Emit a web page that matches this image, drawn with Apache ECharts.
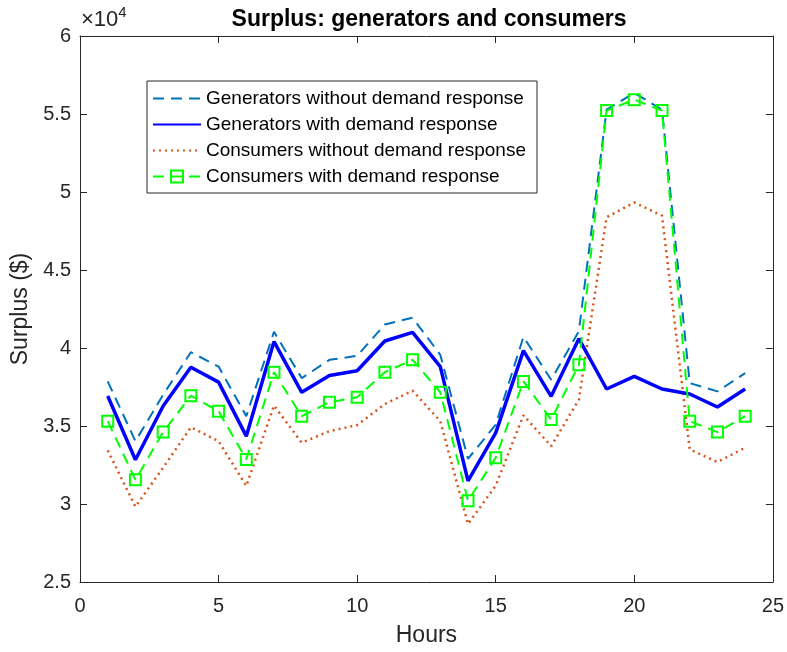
<!DOCTYPE html>
<html>
<head>
<meta charset="utf-8">
<script src="https://cdn.jsdelivr.net/npm/echarts@6/dist/echarts.min.js"></script>
<style>
  html, body { margin: 0; padding: 0; background: #fff; overflow: hidden; }
  #chart { width: 787px; height: 652px; }
</style>
</head>
<body>
<div id="chart"></div>
<script>
// Hourly surplus ($) for generators and consumers, with and without demand response
const hours = [1, 2, 3, 4, 5, 6, 7, 8, 9, 10, 11, 12, 13, 14, 15, 16, 17, 18, 19, 20, 21, 22, 23, 24];

const genWithoutDR = [37860, 34030, 37000, 39730, 38810, 35630, 41040, 38070, 39240, 39500, 41510, 41940,
                      39560, 32900, 35090, 40720, 37960, 41070, 55280, 56350, 55280, 37750, 37220, 38390];
const genWithDR    = [36920, 32840, 36280, 38770, 37810, 34350, 40410, 37160, 38240, 38540, 40450, 41000,
                      38810, 31480, 34560, 39830, 36900, 40600, 37370, 38180, 37370, 37050, 36220, 37370];
const consWithoutDR = [33440, 29830, 32330, 34920, 34030, 31160, 36310, 33930, 34670, 35060, 36410, 37260,
                       35310, 28720, 31180, 35690, 33710, 36690, 48380, 49330, 48480, 33500, 32690, 33610];
const consWithDR    = [35310, 31550, 34610, 36940, 35950, 32860, 38450, 35630, 36520, 36840, 38450, 39240,
                       37160, 30210, 32970, 37860, 35410, 38920, 55220, 55920, 55220, 35310, 34610, 35630];

const seriesNames = [
  'Generators without demand response',
  'Generators with demand response',
  'Consumers without demand response',
  'Consumers with demand response'
];

const xTicks = { min: 0, max: 25, step: 5 };
const yTicks = { min: 25000, max: 60000, step: 5000 };

const pair = vals => hours.map((h, i) => [h, vals[i]]);

const font = '"Liberation Sans", Arial, Helvetica, sans-serif';
const axisColor = '#262626';

const chart = echarts.init(document.getElementById('chart'), null, { renderer: 'canvas' });

const baseX = {
  type: 'value', min: xTicks.min, max: xTicks.max, interval: xTicks.step,
  axisLine: { show: true, onZero: false, lineStyle: { color: axisColor, width: 1 } },
  axisTick: { show: true, inside: true, length: 7, lineStyle: { color: axisColor } },
  splitLine: { show: false }
};
const baseY = {
  type: 'value', min: yTicks.min, max: yTicks.max, interval: yTicks.step,
  axisLine: { show: true, onZero: false, lineStyle: { color: axisColor, width: 1 } },
  axisTick: { show: true, inside: true, length: 7, lineStyle: { color: axisColor } },
  splitLine: { show: false }
};

// lines without markers get a plain line icon in the legend
const hiddenMarker = { color: 'rgba(0,0,0,0)', borderColor: 'rgba(0,0,0,0)', borderWidth: 0 };

chart.setOption({
  animation: false,
  backgroundColor: '#ffffff',
  title: [
    {
      text: 'Surplus: generators and consumers',
      left: 424, top: 3, textAlign: 'center',
      textStyle: { fontFamily: font, fontSize: 23, fontWeight: 'bold', color: '#000' }
    },
    {
      // exponent of the y-axis scale
      text: '{base|×10}{sup|4}',
      left: 81, top: 5, padding: 0,
      textStyle: {
        fontFamily: font, fontSize: 22, fontWeight: 'normal', color: axisColor,
        rich: {
          base: { fontFamily: font, fontSize: 22, fontWeight: 'normal', color: axisColor, verticalAlign: 'bottom', lineHeight: 26 },
          sup: { fontFamily: font, fontSize: 15, fontWeight: 'normal', color: axisColor, verticalAlign: 'top', lineHeight: 26 }
        }
      }
    }
  ],
  grid: { left: 80, top: 36, width: 694, height: 549, containLabel: false },
  xAxis: [
    Object.assign({}, baseX, {
      position: 'bottom',
      name: 'Hours', nameLocation: 'middle', nameGap: 42,
      nameTextStyle: { fontFamily: font, fontSize: 23, color: axisColor },
      axisLabel: { show: true, fontFamily: font, fontSize: 20, color: axisColor, margin: 14 }
    }),
    Object.assign({}, baseX, { position: 'top', axisLabel: { show: false } })
  ],
  yAxis: [
    Object.assign({}, baseY, {
      position: 'left',
      name: 'Surplus ($)', nameLocation: 'middle', nameGap: 48,
      nameTextStyle: { fontFamily: font, fontSize: 23, color: axisColor },
      axisLabel: {
        show: true, fontFamily: font, fontSize: 20, color: axisColor, margin: 9,
        formatter: v => String(v / 10000)
      }
    }),
    Object.assign({}, baseY, { position: 'right', axisLabel: { show: false } })
  ],
  legend: {
    orient: 'vertical',
    left: 147, top: 81,
    padding: [8, 11, 7, 5],
    itemGap: 7,
    itemWidth: 48,
    itemHeight: 15,
    backgroundColor: '#ffffff',
    borderColor: axisColor,
    borderWidth: 1,
    textStyle: { fontFamily: font, fontSize: 19, color: '#000', padding: [0, 0, 0, 0] },
    data: [
      { name: seriesNames[0], itemStyle: hiddenMarker },
      { name: seriesNames[1], itemStyle: hiddenMarker },
      { name: seriesNames[2], itemStyle: hiddenMarker },
      { name: seriesNames[3] }
    ]
  },
  series: [
    {
      name: seriesNames[0], type: 'line', data: pair(genWithoutDR),
      symbol: 'none', z: 2,
      lineStyle: { color: '#0072BD', width: 2, type: [11, 7] },
      itemStyle: { color: '#0072BD' }
    },
    {
      name: seriesNames[1], type: 'line', data: pair(genWithDR),
      symbol: 'none', z: 4,
      lineStyle: { color: '#0000FF', width: 3.5, type: 'solid' },
      itemStyle: { color: '#0000FF' }
    },
    {
      name: seriesNames[2], type: 'line', data: pair(consWithoutDR),
      symbol: 'none', z: 3,
      lineStyle: { color: '#D95319', width: 2.5, type: [2, 4] },
      itemStyle: { color: '#D95319' }
    },
    {
      name: seriesNames[3], type: 'line', data: pair(consWithDR),
      symbol: 'rect', symbolSize: 11, showSymbol: true, z: 5,
      lineStyle: { color: '#00FF00', width: 2, type: [11, 7] },
      itemStyle: { color: 'rgba(255,255,255,0)', borderColor: '#00FF00', borderWidth: 2 }
    }
  ]
});
</script>
</body>
</html>
